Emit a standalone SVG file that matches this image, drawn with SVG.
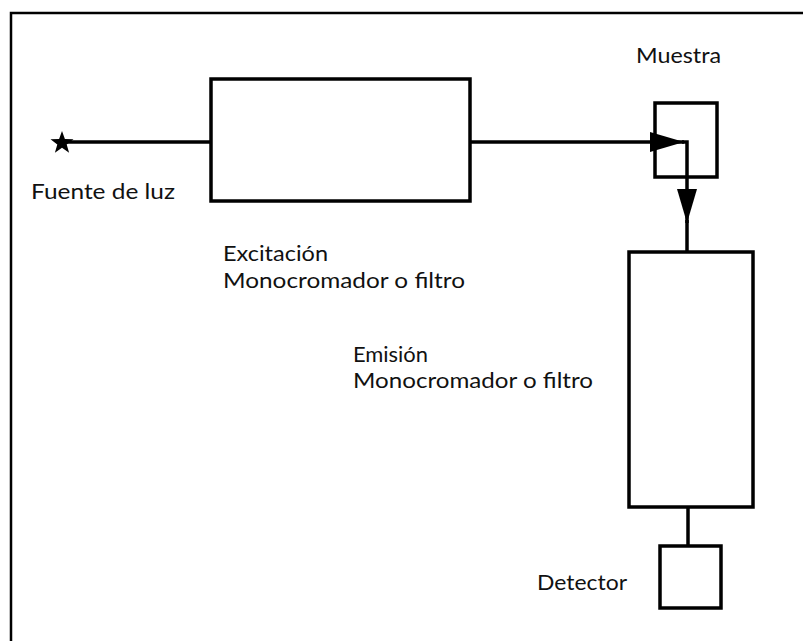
<svg xmlns="http://www.w3.org/2000/svg" width="803" height="641" viewBox="0 0 803 641">
<style>
.box{fill:none;stroke:#000;stroke-width:3.5}
.ln{fill:none;stroke:#000;stroke-width:3.5}
.lbl{font-family:Lato,"Open Sans","Liberation Sans",sans-serif;font-size:22px;fill:#111}
</style>
<defs>
<marker id="ah" markerUnits="userSpaceOnUse" markerWidth="34" markerHeight="20" viewBox="0 0 34 20" refX="34" refY="10" orient="auto">
<path d="M0,0 L34,10 L0,20 Z" fill="#000"/>
</marker>
</defs>
<rect width="803" height="641" fill="#fff"/>
<path d="M11,641 L11,13 L803,13" fill="none" stroke="#000" stroke-width="2.5"/>
<g id="connectors">
<line class="ln" x1="66" y1="142" x2="211" y2="142"/>
<line class="ln" x1="470" y1="142" x2="684" y2="142" marker-end="url(#ah)"/>
<polyline class="ln" points="682,142 687,142 687,223" marker-end="url(#ah)"/>
<line class="ln" x1="687" y1="220" x2="687" y2="252"/>
<line class="ln" x1="688" y1="507" x2="688" y2="546"/>
</g>
<g id="fuente">
<polygon points="62,131 64.9,139 73.5,139.3 66.7,144.5 69.1,152.8 62,147.8 54.9,152.8 57.3,144.5 50.5,139.3 59.1,139" fill="#000"/>
<text class="lbl" x="31" y="199" textLength="144" lengthAdjust="spacingAndGlyphs">Fuente de luz</text>
</g>
<g id="excitacion">
<rect class="box" x="211" y="79" width="259" height="122"/>
<text class="lbl" x="223" y="261" textLength="105" lengthAdjust="spacingAndGlyphs">Excitación</text>
<text class="lbl" x="223" y="288" textLength="242" lengthAdjust="spacingAndGlyphs">Monocromador o filtro</text>
</g>
<g id="muestra">
<rect class="box" x="655" y="103" width="62" height="74"/>
<text class="lbl" x="636" y="63" textLength="85" lengthAdjust="spacingAndGlyphs">Muestra</text>
</g>
<g id="emision">
<rect class="box" x="629" y="252" width="124" height="255"/>
<text class="lbl" x="353" y="362" textLength="75" lengthAdjust="spacingAndGlyphs">Emisión</text>
<text class="lbl" x="353" y="388" textLength="240" lengthAdjust="spacingAndGlyphs">Monocromador o filtro</text>
</g>
<g id="detector">
<rect class="box" x="660" y="546" width="61" height="62"/>
<text class="lbl" x="537" y="590" textLength="90" lengthAdjust="spacingAndGlyphs">Detector</text>
</g>
</svg>
